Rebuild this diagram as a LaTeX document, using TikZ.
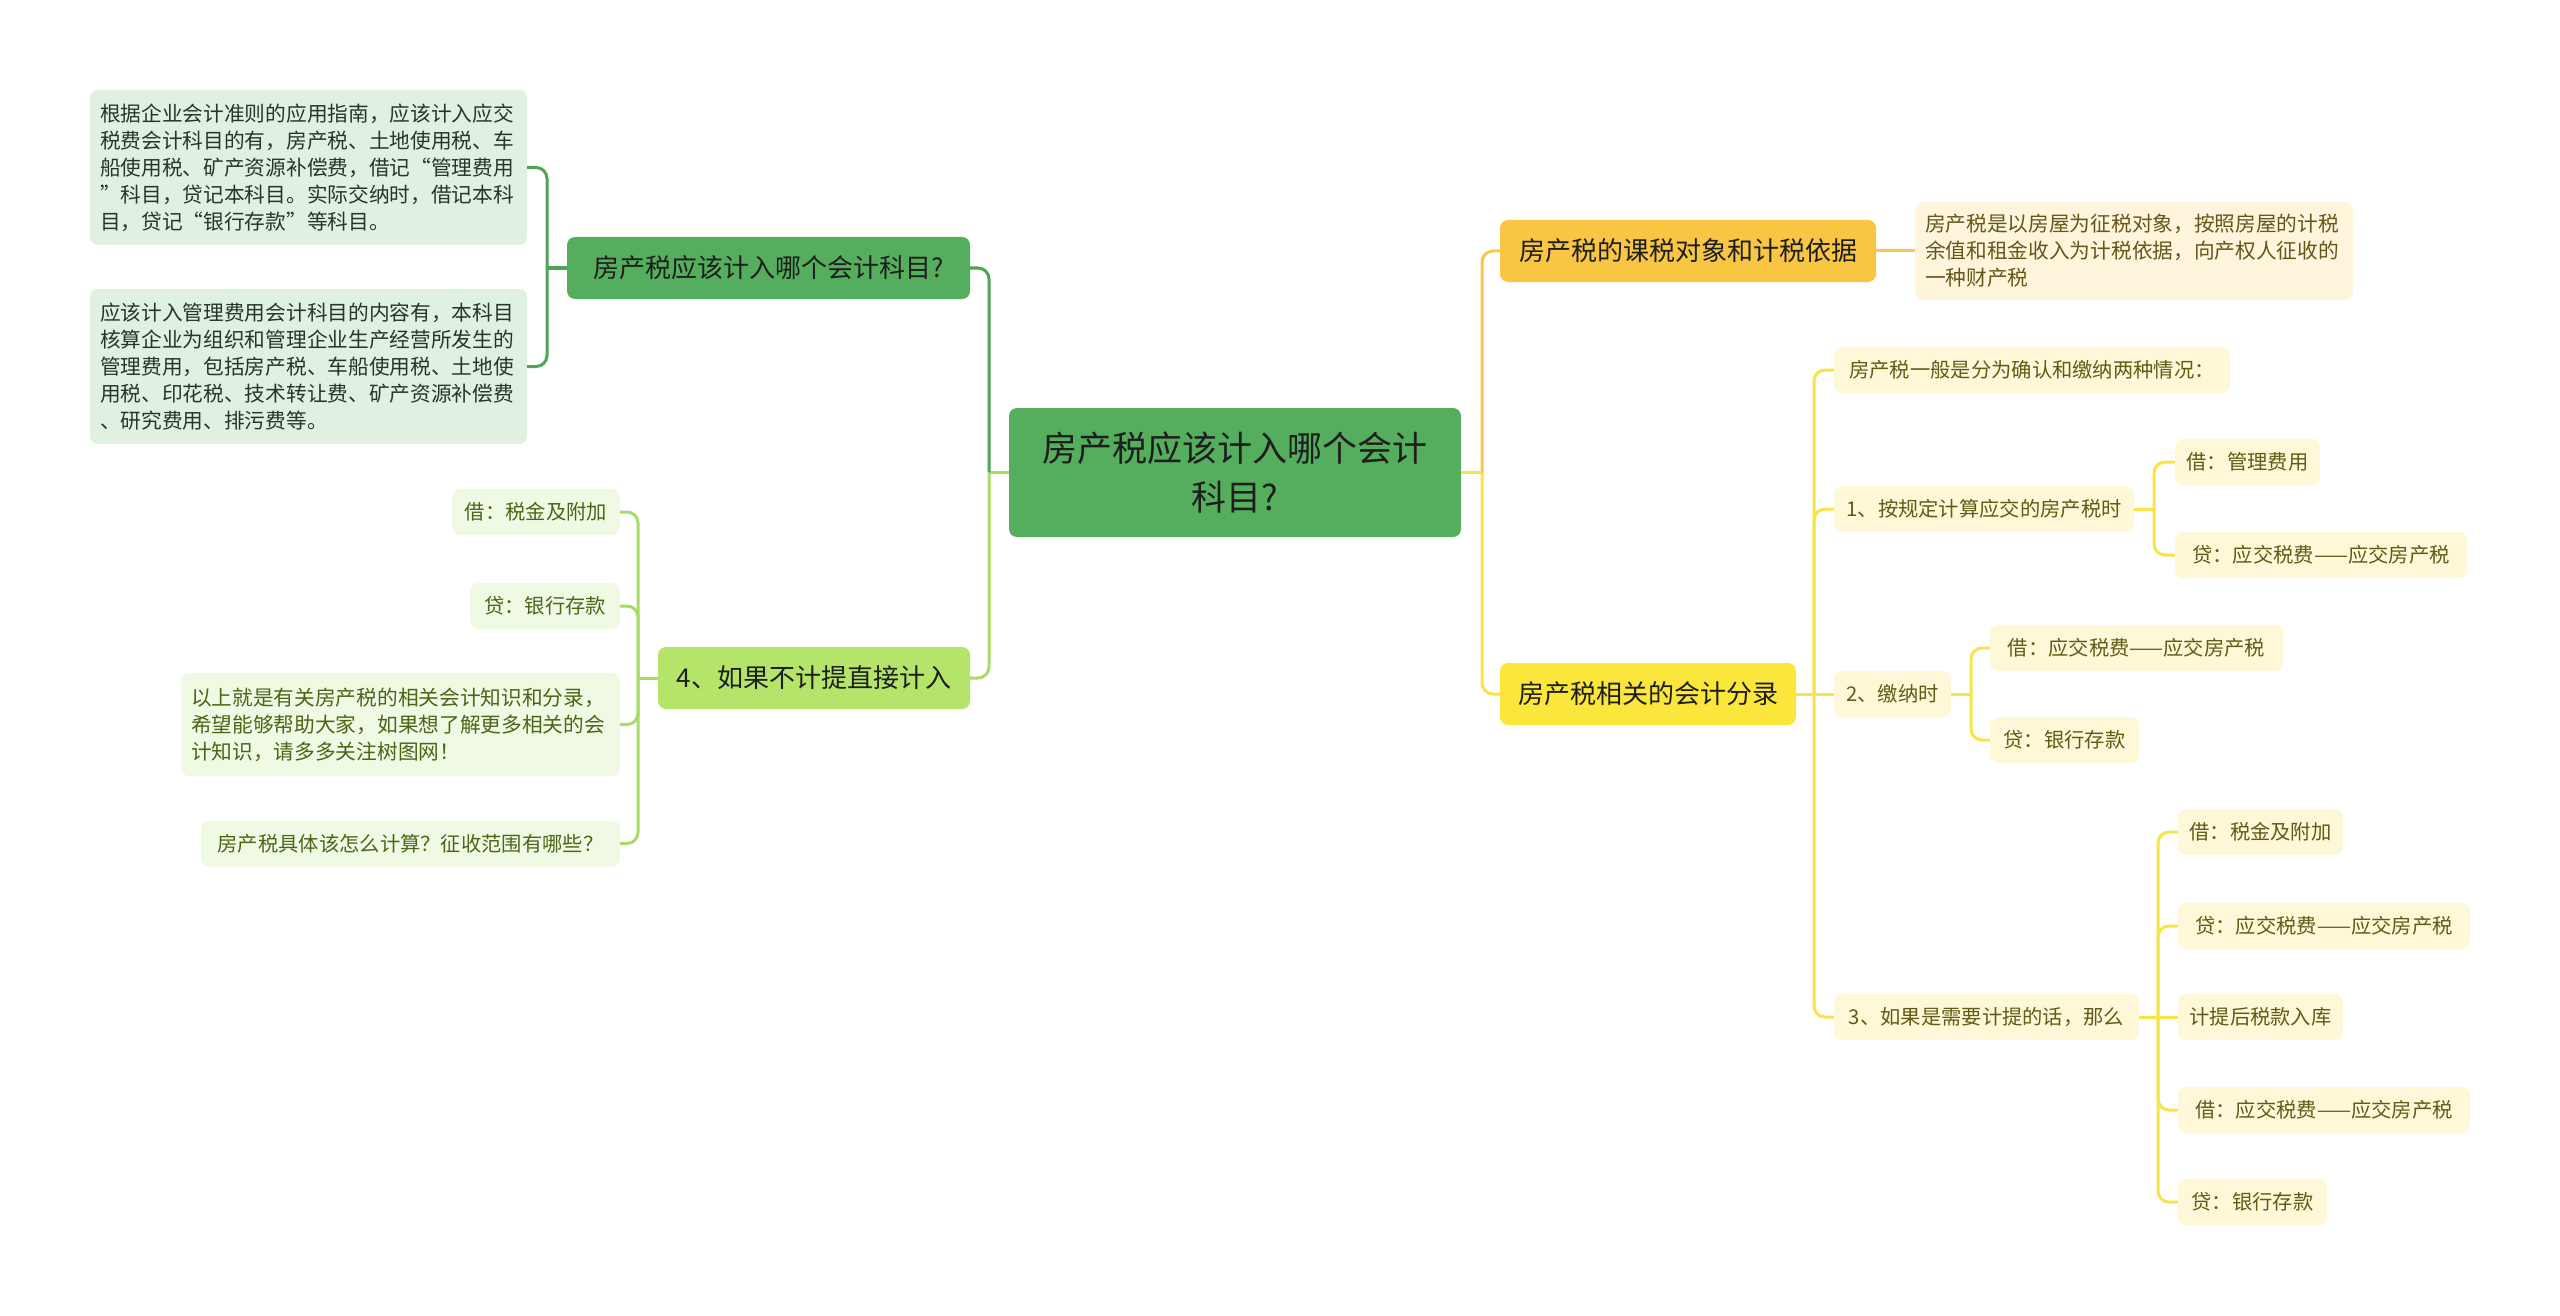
\documentclass[tikz,border=0pt]{standalone}
\usepackage{fontspec}
\setmainfont{Noto Sans CJK SC}
\definecolor{rootfill}{HTML}{55AE5D}
\definecolor{rootline}{HTML}{4CA454}
\definecolor{darktext}{HTML}{1E1E1E}
\definecolor{lgfill}{HTML}{E0F0E1}
\definecolor{lgtext}{HTML}{2A352A}
\definecolor{ygfill}{HTML}{B5E46B}
\definecolor{ygline}{HTML}{A9DC66}
\definecolor{yglight}{HTML}{F0F9E4}
\definecolor{ygtext}{HTML}{4A6716}
\definecolor{orfill}{HTML}{F8C643}
\definecolor{orline}{HTML}{F6C84B}
\definecolor{orlight}{HTML}{FEF5DC}
\definecolor{ortext}{HTML}{66561A}
\definecolor{yefill}{HTML}{FBE73C}
\definecolor{yeline}{HTML}{F8E446}
\definecolor{yelight}{HTML}{FEF8D8}
\definecolor{yetext}{HTML}{625A15}
\begin{document}
\begin{tikzpicture}[x=1pt,y=-1pt,
  conn/.style={line width=3pt},
  elbow/.style={line width=3pt, rounded corners=11pt},
  box/.style={rounded corners=8pt, inner sep=0pt, align=center},
  topbox/.style={box, minimum height=62pt, text=darktext, font=\fontsize{26}{32}\selectfont},
  leaf/.style={box, minimum height=46pt, font=\fontsize{20.3}{27}\selectfont},
  para/.style={box, align=left, font=\fontsize{20.7}{27}\selectfont}
]
\useasboundingbox (0,0) rectangle (2560,1316);

% root
\node[box, fill=rootfill, text=darktext, minimum width=452pt, minimum height=129pt,
  font=\fontsize{35}{49}\selectfont] (root) at (1235,472.5) {房产税应该计入哪个会计\\科目?};

% left level 1
\node[topbox, fill=rootfill, minimum width=403pt] (l1) at (768.5,268) {房产税应该计入哪个会计科目?};
\node[topbox, fill=ygfill, minimum width=312pt] (l2) at (814,678) {4、如果不计提直接计入};

% l1 children
\node[para, fill=lgfill, text=lgtext, minimum width=437pt, minimum height=155pt, text width=417pt] (a) at (308.5,167.5)
 {根据企业会计准则的应用指南，应该计入应交\\税费会计科目的有，房产税、土地使用税、车\\船使用税、矿产资源补偿费，借记“管理费用\\”科目，贷记本科目。实际交纳时，借记本科\\目，贷记“银行存款”等科目。};
\node[para, fill=lgfill, text=lgtext, minimum width=437pt, minimum height=155pt, text width=417pt] (b) at (308.5,366.5)
 {应该计入管理费用会计科目的内容有，本科目\\核算企业为组织和管理企业生产经营所发生的\\管理费用，包括房产税、车船使用税、土地使\\用税、印花税、技术转让费、矿产资源补偿费\\、研究费用、排污费等。};

% l2 children
\node[leaf, fill=yglight, text=ygtext, minimum width=168pt] (l2a) at (536,512) {借：税金及附加};
\node[leaf, fill=yglight, text=ygtext, minimum width=150pt] (l2b) at (545,606) {贷：银行存款};
\node[para, fill=yglight, text=ygtext, minimum width=439pt, minimum height=103pt, text width=419pt] (l2c) at (400.5,724.5)
 {以上就是有关房产税的相关会计知识和分录，\\希望能够帮助大家，如果想了解更多相关的会\\计知识，请多多关注树图网！};
\node[leaf, fill=yglight, text=ygtext, minimum width=419pt] (l2d) at (410.5,843.5) {房产税具体该怎么计算？征收范围有哪些？};

% right level 1
\node[topbox, fill=orfill, minimum width=376pt] (r1) at (1688,251) {房产税的课税对象和计税依据};
\node[topbox, fill=yefill, minimum width=296pt] (r2) at (1648,694) {房产税相关的会计分录};

% r1 child
\node[para, fill=orlight, text=ortext, minimum width=438pt, minimum height=98pt, text width=418pt] (d) at (2134,251)
 {房产税是以房屋为征税对象，按照房屋的计税\\余值和租金收入为计税依据，向产权人征收的\\一种财产税};

% r2 children
\node[leaf, fill=yelight, text=yetext, minimum width=396pt] (s0) at (2032,370) {房产税一般是分为确认和缴纳两种情况：};
\node[leaf, fill=yelight, text=yetext, minimum width=300pt] (s1) at (1984,509) {1、按规定计算应交的房产税时};
\node[leaf, fill=yelight, text=yetext, minimum width=117pt] (s2) at (1892.5,694) {2、缴纳时};
\node[leaf, fill=yelight, text=yetext, minimum width=305pt] (s3) at (1986.5,1017) {3、如果是需要计提的话，那么};

\node[leaf, fill=yelight, text=yetext, minimum width=145pt] (s1a) at (2247.5,462) {借：管理费用};
\node[leaf, fill=yelight, text=yetext, minimum width=292pt] (s1b) at (2321,555) {贷：应交税费——应交房产税};

\node[leaf, fill=yelight, text=yetext, minimum width=293pt] (s2a) at (2136.5,648) {借：应交税费——应交房产税};
\node[leaf, fill=yelight, text=yetext, minimum width=149pt] (s2b) at (2064.5,740) {贷：银行存款};

\node[leaf, fill=yelight, text=yetext, minimum width=165pt] (s3a) at (2260.5,832) {借：税金及附加};
\node[leaf, fill=yelight, text=yetext, minimum width=292pt] (s3b) at (2324,926) {贷：应交税费——应交房产税};
\node[leaf, fill=yelight, text=yetext, minimum width=165pt] (s3c) at (2260.5,1017) {计提后税款入库};
\node[leaf, fill=yelight, text=yetext, minimum width=292pt] (s3d) at (2324,1110) {借：应交税费——应交房产税};
\node[leaf, fill=yelight, text=yetext, minimum width=149pt] (s3e) at (2252.5,1202) {贷：银行存款};

% junction coordinates
\coordinate (jL) at (989,472.5);
\coordinate (jR) at (1482,472.5);
\coordinate (jl1) at (547,268);
\coordinate (jl2) at (638,678);
\coordinate (jr2) at (1814,694);
\coordinate (js1) at (2154,509);
\coordinate (js2) at (1971,694);
\coordinate (js3) at (2158,1017);

% root connectors
\draw[conn, ygline] (root.west) -- (jL);
\draw[elbow, rootline] (jL) |- (l1.east);
\draw[elbow, ygline] (jL) |- (l2.east);
\draw[conn, yeline] (root.east) -- (jR);
\draw[elbow, orline] (jR) |- (r1.west);
\draw[elbow, yeline] (jR) |- (r2.west);

% l1 connectors
\draw[conn, rootline] (l1.west) -- (jl1);
\draw[elbow, rootline] (jl1) |- (a.east);
\draw[elbow, rootline] (jl1) |- (b.east);

% l2 connectors
\draw[conn, ygline] (l2.west) -- (jl2);
\draw[elbow, ygline] (jl2) |- (l2a.east);
\draw[elbow, ygline] (jl2) |- (l2b.east);
\draw[elbow, ygline] (jl2) |- (l2c.east);
\draw[elbow, ygline] (jl2) |- (l2d.east);

% r1 connector
\draw[conn, orline] (r1.east) -- (d.west);

% r2 connectors
\draw[conn, yeline] (r2.east) -- (s2.west);
\draw[elbow, yeline] (jr2) |- (s0.west);
\draw[elbow, yeline] (jr2) |- (s1.west);
\draw[elbow, yeline] (jr2) |- (s3.west);

\draw[conn, yeline] (s1.east) -- (js1);
\draw[elbow, yeline] (js1) |- (s1a.west);
\draw[elbow, yeline] (js1) |- (s1b.west);

\draw[conn, yeline] (s2.east) -- (js2);
\draw[elbow, yeline] (js2) |- (s2a.west);
\draw[elbow, yeline] (js2) |- (s2b.west);

\draw[conn, yeline] (s3.east) -- (s3c.west);
\draw[elbow, yeline] (js3) |- (s3a.west);
\draw[elbow, yeline] (js3) |- (s3b.west);
\draw[elbow, yeline] (js3) |- (s3d.west);
\draw[elbow, yeline] (js3) |- (s3e.west);
\end{tikzpicture}
\end{document}
